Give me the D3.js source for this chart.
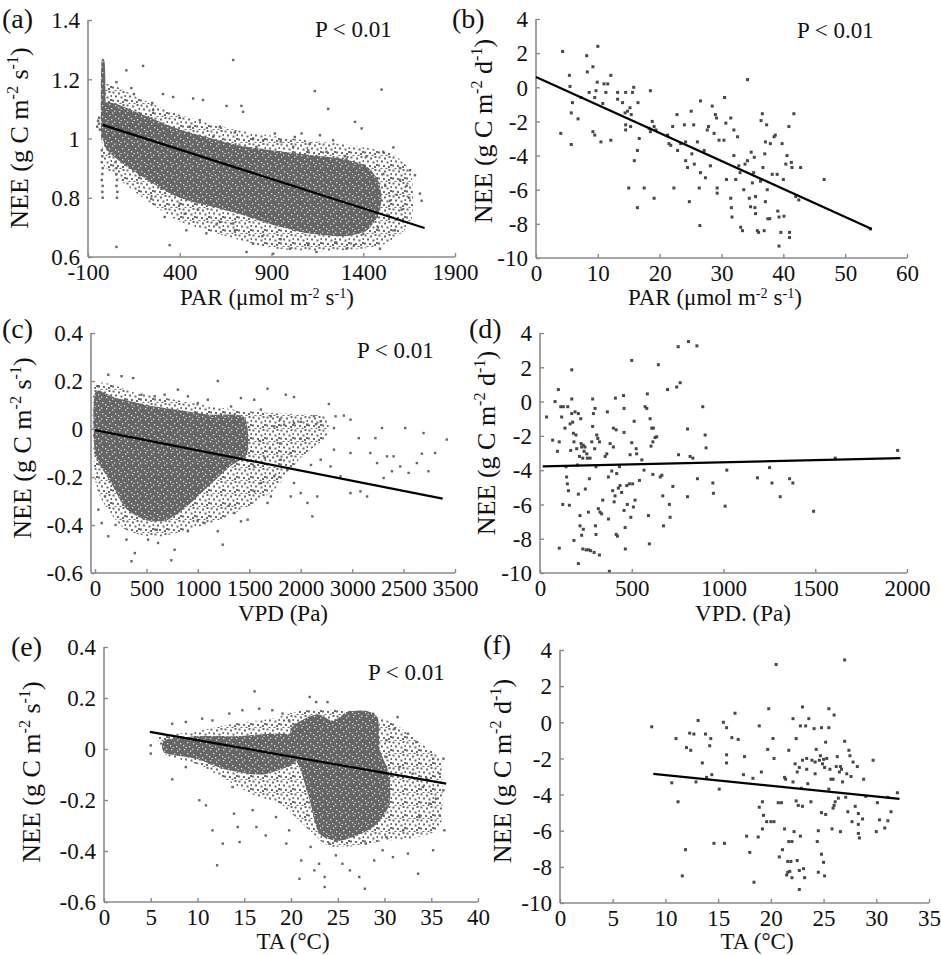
<!DOCTYPE html>
<html><head><meta charset="utf-8">
<script src="https://cdn.jsdelivr.net/npm/d3@7/dist/d3.min.js"></script>
<style>body{margin:0;background:#fff}svg{display:block}text{font-family:"Liberation Serif","Times New Roman",serif;fill:#111}</style>
</head><body><svg id="c" width="941" height="955"></svg>
<script>
// ---------- DATA ----------
const aTicksX=[-100,400,900,1400,1900], aTicksY=[0.6,0.8,1,1.2,1.4];
const aFit=[[-20,1.046],[1734,0.698]];
const aCoreOuter=[[-20,1.18],[200,1.13],[400,1.08],[700,1.03],[1000,1.0],[1300,0.98],[1550,0.95],[1660,0.88],[1660,0.72],[1500,0.64],[1200,0.62],[900,0.63],[600,0.68],[400,0.72],[200,0.80],[0,0.90],[-20,0.94]];
const aCoreInner=[[-5,1.12],[200,1.08],[400,1.03],[700,0.98],[900,0.96],[1100,0.945],[1300,0.93],[1420,0.905],[1480,0.86],[1500,0.80],[1480,0.74],[1420,0.69],[1300,0.67],[1100,0.68],[900,0.71],[700,0.75],[400,0.80],[200,0.87],[-5,0.97]];
const aStripe=[[-28,1.25],[-8,1.25],[-5,1.05],[-28,1.0]];
const aPoints=[[691,1.265],[1500,1.165],[1136,1.16],[1209,1.10],[200,1.245],[109,1.23],[55,1.19],[136,1.17],[309,1.15],[364,1.14],[473,1.135],[527,1.13],[655,1.11],[736,1.11],[745,1.09],[1355,1.056],[1391,1.034],[918,1.017],[1027,1.005],[1064,1.017],[1164,1.011],[1236,0.994],[1509,0.955],[1564,0.97],[1682,0.876],[1709,0.814],[1718,0.79],[1636,0.84],[1655,0.893],[1600,0.90],[1582,0.81],[1609,0.76],[1573,0.69],[1491,0.628],[1400,0.679],[1309,0.628],[1145,0.617],[1000,0.628],[909,0.611],[800,0.645],[764,0.617],[436,0.69],[345,0.64],[55,0.634],[318,0.735],[245,0.797],[182,0.876],[427,0.746],[545,0.68],[691,0.713],[618,0.718],[1455,0.77],[1473,0.814],[1545,0.79],[1509,0.88],[1418,0.94],[1309,0.93],[1200,0.955],[1109,0.983],[1018,0.972],[855,0.994],[818,0.972],[582,1.006],[509,1.062],[455,1.04],[255,1.096],[218,1.062],[618,1.04],[327,1.017],[-40,1.07],[-45,1.06],[-40,1.05],[-50,1.04],[-35,1.03],[-25,0.96],[-22,0.94],[-25,0.92],[-20,0.90],[-22,0.88],[-25,0.86],[-20,0.84],[-22,0.82],[-20,0.80],[55,0.90],[55,0.88],[58,0.86],[55,0.84],[60,0.82],[58,0.80],[50,0.92],[1250,0.90],[1350,0.88],[1450,0.86],[1520,0.84],[1600,0.86],[1650,0.80],[1540,0.74],[1480,0.70],[1350,0.64],[1250,0.65],[1100,0.64],[950,0.66],[850,0.67],[700,0.69],[600,0.71],[500,0.76],[400,0.78],[300,0.83],[950,0.99],[700,1.02],[800,1.0],[1100,0.96],[1300,0.94],[400,1.07],[250,1.12],[150,1.15]];

const bTicksX=[0,10,20,30,40,50,60], bTicksY=[-10,-8,-6,-4,-2,0,2,4];
const bFit=[[0,0.6],[54.3,-8.3]];
const bPoints=[[4.3,2.1],[4.0,-2.7],[5.7,-3.35],[5.4,0.7],[5.5,0.05],[5.7,-1.5],[5.9,-0.9],[6.8,-1.85],[7.3,-0.6],[8.2,1.85],[8.3,0.9],[8.6,-0.3],[9.2,1.2],[9.5,-0.6],[9.7,-0.2],[10,2.4],[9.9,0.3],[9.2,-2.6],[9.5,-2.8],[10.5,-3.2],[10.8,-0.95],[11,0.2],[11.6,0.2],[11.3,-0.3],[12.1,0.7],[12.1,-3.1],[13.2,-0.3],[13.2,-0.7],[14,-0.9],[14.4,-1.5],[14.5,-0.3],[14.5,-2.2],[14.5,-2.5],[14.8,-1.4],[15.2,-1.2],[15.6,-0.3],[15.8,0],[15.4,-1.6],[15.3,-2.3],[15,-5.9],[15.9,-4.3],[16.4,-3.7],[16.5,-0.9],[16.7,-3],[16.4,-7.05],[17.5,-5.9],[18.5,-0.2],[18.3,-2.4],[18.5,-2.6],[18.8,-2],[19.1,-2.3],[19.1,-6.5],[19.4,-2.5],[21.3,-2.8],[21.5,-3.3],[21.8,-3.4],[22.1,-2.3],[22.3,-5.9],[22.8,-1.6],[22.9,-3.7],[23.4,-3.3],[24,-2.2],[24.2,-3.2],[24.2,-4.3],[24.5,-4.7],[24.8,-6.7],[25.1,-1.4],[25.2,-3.9],[25.5,-2.2],[25.6,-4.5],[26.1,-3.2],[26.4,-5.9],[26.6,-0.8],[26.6,-5],[26.5,-8.1],[27.2,-3.7],[27.4,-5.3],[27.7,-2.5],[27.9,-2.3],[28.2,-4.6],[28.5,-1.1],[28.8,-2.7],[29,-1.6],[29.2,-1.8],[29.3,-5.9],[29.3,-6.2],[29.6,-3.1],[30.4,-3.1],[30.5,-0.6],[30.7,-2.1],[30.8,-5.4],[31.5,-1.8],[31.5,-6.5],[31.6,-7.05],[31.7,-7.6],[32,-2.5],[32,-4.0],[32.3,-5.4],[32.6,-2.9],[32.8,-4.6],[33,-5],[33.1,-8.2],[33.4,-8.4],[33.6,-6.0],[33.8,-4.5],[34.2,0.45],[34.2,-4.3],[34.5,-6.5],[34.7,-7.0],[34.8,-3.8],[35,-5.6],[35.2,-5.0],[35.3,-4.1],[35.4,-7.05],[35.5,-6.4],[35.5,-7.4],[35.8,-8.4],[36,-8.5],[36.3,-5.5],[36.4,-1.95],[36.6,-1.55],[36.7,-4.7],[36.9,-8.4],[37,-3.9],[37.1,-3.2],[37.1,-6.7],[37.3,-2.2],[37.4,-6],[37.5,-7.7],[37.8,-7.7],[37.9,-3.3],[38.2,-5.1],[38.5,-2.9],[38.7,-2.8],[39,-5.1],[39.1,-7.25],[39.3,-7.6],[39.3,-9.3],[39.6,-8.5],[39.8,-3.3],[40,-5.4],[40.1,-7.55],[40.4,-4.5],[40.6,-4.0],[40.9,-2.3],[41,-8.5],[41,-8.8],[41.3,-4.4],[41.4,-4.7],[41.7,-1.55],[42,-6.4],[42.5,-6.6],[42.8,-4.7],[46.6,-5.4],[54.1,-8.3]];

const cTicksX=[0,500,1000,1500,2000,2500,3000,3500], cTickLabels=["0","500","1000","1500","2000","3000","2500","3500"], cTicksY=[-0.6,-0.4,-0.2,0,0.2,0.4];
const cFit=[[0,-0.005],[3380,-0.29]];
const cCoreOuter=[[0,0.18],[400,0.15],[800,0.12],[1200,0.09],[1600,0.07],[2000,0.06],[2250,0.05],[2250,-0.03],[2000,-0.12],[1750,-0.25],[1500,-0.32],[1200,-0.38],[900,-0.42],[600,-0.45],[300,-0.42],[100,-0.32],[0,-0.2]];
const cCoreInner=[[0,0.15],[200,0.13],[500,0.10],[800,0.08],[1100,0.06],[1450,0.05],[1480,-0.10],[1300,-0.16],[1100,-0.24],[900,-0.32],[700,-0.38],[500,-0.38],[300,-0.33],[150,-0.22],[0,-0.10]];
const cPoints=[[129,0.226],[258,0.22],[371,0.212],[32,0.178],[1194,0.2],[806,0.164],[1677,0.168],[1855,0.143],[1935,0.133],[2274,0.104],[2339,0.053],[2419,0.056],[2484,0.039],[2565,-0.038],[2726,-0.038],[2790,0.004],[3016,0.004],[3194,-0.017],[3420,-0.044],[3307,-0.10],[3178,-0.103],[3242,-0.176],[3049,-0.183],[2887,-0.176],[2839,-0.114],[2742,-0.142],[2645,-0.281],[2581,-0.26],[2484,-0.267],[2387,-0.197],[2290,-0.156],[2194,-0.128],[2113,-0.364],[2065,-0.308],[2000,-0.267],[1935,-0.225],[1871,-0.169],[1806,-0.128],[1742,-0.197],[1710,-0.281],[1677,-0.308],[1613,-0.225],[1548,-0.156],[1484,-0.378],[1419,-0.385],[1355,-0.35],[1242,-0.482],[1194,-0.426],[1065,-0.392],[903,-0.426],[774,-0.503],[742,-0.547],[613,-0.475],[516,-0.461],[387,-0.517],[355,-0.551],[306,-0.461],[129,-0.447],[65,-0.392],[32,-0.336],[97,-0.281],[2323,0.004],[2194,0.032],[2129,0.053],[2065,0.018],[1935,0.025],[1839,0.018],[1742,0.011],[1710,0.053],[1613,0.081],[1548,0.122],[1419,0.129],[1323,0.094],[1097,0.122],[1000,0.108],[903,0.136],[677,0.143],[581,0.136],[452,0.143],[2161,-0.281],[1903,-0.281],[2323,-0.086],[2484,-0.10],[2677,-0.10],[2903,-0.114],[3129,-0.142],[2968,-0.156],[2806,-0.204],[1600,-0.05],[1700,-0.08],[1800,-0.06],[1900,-0.10],[2000,-0.04],[2100,-0.15],[1650,-0.12],[1550,-0.26],[1300,-0.32],[1000,-0.38],[600,-0.42],[200,-0.40],[1800,0.04],[2000,0.03],[2150,0.02]];

const dTicksX=[0,500,1000,1500,2000], dTicksY=[-10,-8,-6,-4,-2,0,2,4];
const dFit=[[15,-3.78],[1964,-3.3]];
const dPoints=[[36,-0.9],[69,-2.25],[82,0],[95,-2.9],[100,0.7],[105,-2.35],[105,-8.55],[113,-0.3],[118,-0.9],[127,-0.3],[124,-6],[136,-1.55],[142,-3.8],[145,-4.4],[149,-4.8],[151,-0.3],[155,-5.2],[160,-6.05],[164,-1.3],[167,-2.85],[173,1.85],[173,0.15],[173,-0.7],[178,-1.2],[182,-1.85],[185,-2.35],[185,-8.1],[191,-0.6],[196,-1.95],[200,-2.75],[204,-3.7],[209,-0.7],[209,-5.4],[209,-9.45],[215,-3.2],[218,-6.65],[218,-7.25],[222,-1],[224,-2.45],[227,-2.65],[227,-7.8],[233,-3.3],[233,-8.6],[236,-2.55],[236,-7.45],[240,-2.9],[245,-2.65],[247,-5.1],[251,-8.65],[255,-3.05],[258,-3.3],[264,-6.45],[265,-8.65],[269,-4.5],[273,-3.3],[276,-8.7],[282,-2.35],[287,-1.45],[287,0.15],[291,-0.7],[295,-8.8],[298,-2.75],[300,-0.4],[302,-7.25],[305,-3.8],[305,-7.75],[309,-1.95],[315,-2.15],[318,-6.25],[324,-8.95],[324,-2.35],[327,-6.45],[336,-6.55],[342,-5.75],[355,-3.2],[364,-3.05],[367,-0.6],[373,-4.4],[373,-6.85],[378,-9.9],[382,-2.45],[391,-4.05],[396,-5.2],[400,-2.65],[400,-1.55],[404,-5.85],[409,-5.5],[411,0.2],[415,-1.65],[415,-7.75],[418,-4.2],[422,-7.85],[427,-5.05],[433,-3.8],[436,-4.9],[445,-5.3],[455,0.35],[458,-0.4],[458,-1.8],[458,-6.35],[464,-7.35],[465,-8.6],[473,-4.9],[476,-6],[487,-4.8],[491,-3.1],[495,-6.75],[500,2.4],[500,-2.4],[505,-4.8],[509,-6.15],[513,-1.15],[518,-5.75],[524,-2.75],[527,-3.05],[542,-4.6],[555,-3.4],[567,-4.0],[573,-0.3],[582,-0.4],[585,0.45],[591,-6.65],[596,-8.3],[600,-1],[605,-2.6],[609,-1.55],[615,-2.35],[615,-4.25],[618,-1.55],[627,-2.1],[636,-2.05],[645,2.15],[655,-4.4],[664,-4.3],[669,-5.5],[673,-7.25],[695,0.7],[705,-6],[709,-6.75],[724,-4.95],[745,0.85],[753,3.2],[755,-3.1],[764,1.1],[804,-5.55],[804,-1.6],[809,3.5],[818,-3.2],[833,-3.3],[855,3.25],[858,-4.5],[887,-0.3],[900,-1.95],[905,-2.7],[942,-4.75],[945,-5.35],[1009,-6.1],[1018,-4.0],[1185,-4.45],[1251,-3.85],[1264,-4.75],[1309,-5.55],[1360,-4.5],[1378,-4.75],[1491,-6.4],[1609,-3.3],[1949,-2.85]];

const eTicksX=[0,5,10,15,20,25,30,35,40], eTicksY=[-0.6,-0.4,-0.2,0,0.2,0.4];
const eFit=[[4.9,0.067],[36.6,-0.136]];
const eCoreOuter=[[6,0.05],[10,0.07],[14,0.10],[18,0.12],[21,0.15],[24,0.155],[28,0.14],[31,0.10],[34,0.02],[36,-0.05],[36,-0.30],[33,-0.35],[30,-0.36],[27,-0.38],[24,-0.38],[22,-0.32],[19,-0.22],[16,-0.18],[13,-0.12],[10,-0.06],[7,-0.03],[6,0]];
const eCoreMain=[[20,0.08],[21.5,0.12],[23,0.135],[24.5,0.11],[26,0.145],[28,0.15],[29.3,0.12],[29.5,0.0],[30.5,-0.1],[30.5,-0.22],[29,-0.3],[27,-0.34],[25,-0.36],[23,-0.33],[22,-0.2],[21,-0.08],[20,0.0]];
const eCoreLeft=[[6.5,0.035],[10,0.05],[14,0.05],[18,0.06],[20.5,0.05],[20.5,-0.05],[17,-0.1],[13,-0.08],[10,-0.04],[6.5,-0.015]];
const ePoints=[[16.1,0.226],[22.0,0.204],[22.7,0.184],[23.9,0.184],[26.3,0.145],[28.8,0.138],[31.4,0.125],[31.1,0.08],[32.5,0.06],[33.4,0.027],[35.2,-0.038],[36.3,-0.038],[35.9,-0.097],[36.3,-0.162],[36.4,-0.319],[35.2,-0.397],[33.6,-0.489],[32.5,-0.41],[30.9,-0.424],[29.8,-0.397],[28.9,-0.437],[27.9,-0.548],[27.3,-0.502],[26.3,-0.476],[25.5,-0.45],[23.6,-0.541],[23.6,-0.502],[22.5,-0.476],[20.9,-0.509],[21.1,-0.437],[19.5,-0.371],[17.3,-0.339],[16.3,-0.306],[14.5,-0.365],[14.3,-0.306],[13.9,-0.254],[12.7,-0.371],[12.1,-0.456],[11.6,-0.319],[10.9,-0.221],[10.2,-0.201],[7.3,-0.119],[5.0,0.014],[5.0,-0.018],[7.3,0.099],[8.75,0.106],[10.5,0.119],[11.6,0.112],[13.4,0.139],[14.8,0.152],[16.6,0.158],[18.0,0.152],[19.1,0.139],[19.8,0.112],[20.2,0.073],[8.75,-0.071],[13.75,-0.149],[15.9,-0.24],[18.4,-0.267],[19.8,-0.319],[28.0,-0.371],[30.2,-0.345],[32.0,-0.319],[33.75,-0.267],[34.8,-0.214],[34.1,-0.149],[33.0,-0.097],[31.6,-0.071],[30.2,-0.031],[30.2,0.034],[34.5,-0.116],[35.5,-0.195],[35.9,-0.26],[24.1,-0.371],[24.8,-0.417],[22.1,-0.384],[23.0,-0.45]];

const fTicksX=[0,5,10,15,20,25,30,35], fTicksY=[-10,-8,-6,-4,-2,0,2,4];
const fFit=[[8.85,-2.85],[32.2,-4.24]];
const fPoints=[[8.7,-0.25],[10.6,-3.35],[11.0,-0.9],[11.2,-4.4],[11.6,-8.5],[11.9,-7.05],[12.0,-1.4],[12.3,-0.6],[12.4,-1.55],[12.7,-0.65],[12.9,-3.3],[13.1,0.1],[13.5,-2.25],[13.8,-0.65],[13.9,-3.05],[14.2,-1.3],[14.3,-0.9],[14.4,-2.9],[14.6,-6.7],[15.1,-3.7],[15.5,0],[15.6,-6.7],[15.8,-0.3],[15.8,-1.8],[15.8,-2.25],[16.3,-0.85],[16.6,0.5],[16.9,-0.95],[17.4,-2.9],[17.5,-1.9],[17.7,-6.3],[18.0,-7.2],[18.3,-3.1],[18.4,-8.85],[18.8,-6.35],[18.9,-0.2],[18.9,-4.7],[19.1,-2.75],[19.2,-4.4],[19.2,-5.9],[19.3,-5.15],[19.6,-5.5],[19.7,-1.5],[19.8,0.75],[20.0,-5.5],[20.2,-0.9],[20.3,-2],[20.3,-5.5],[20.5,3.2],[20.7,-4.45],[20.8,-7.45],[21.0,-4.45],[21.1,-7.05],[21.3,-3.05],[21.3,-5.9],[21.4,-3.15],[21.5,-8.45],[21.6,-7.7],[21.6,-8.3],[21.7,-6.6],[21.7,-1.55],[21.8,-8.25],[21.9,-7.7],[22.0,-8.6],[22.0,-6.6],[22.1,0.2],[22.1,-3.3],[22.2,-6.05],[22.3,-2.3],[22.4,-4.35],[22.4,-0.9],[22.5,-2.75],[22.5,-7.65],[22.6,-4.6],[22.7,-2.5],[22.7,-8.2],[22.7,-9.25],[22.8,-0.2],[22.8,-6.3],[22.9,-3.65],[23.0,-4.65],[23.0,0.85],[23.0,-2.1],[23.1,-8.1],[23.2,-8.6],[23.3,-0.2],[23.4,-2.6],[23.4,-2],[23.5,-3.4],[23.6,0.2],[23.8,-4.4],[23.9,-2.1],[24.1,-0.35],[24.2,-2.85],[24.2,-2.2],[24.3,-1.5],[24.4,-6.6],[24.5,-8.3],[24.5,-6],[24.6,-2.1],[24.7,-1.85],[24.8,-7.3],[24.8,-0.3],[24.8,-5],[24.9,-2.3],[25.0,-7.75],[25.0,-2.05],[25.1,-2.5],[25.1,-8.5],[25.2,-5.1],[25.2,-1.1],[25.3,-2],[25.5,0.75],[25.5,-0.3],[25.5,-3.7],[25.6,-2.6],[25.7,-3.15],[25.8,-5.9],[25.9,-4.75],[25.9,-3.15],[26.0,0.4],[26.0,-4.6],[26.1,-4.4],[26.2,-2.45],[26.3,-1.9],[26.4,-4.2],[26.5,-2.75],[26.6,-2.45],[26.6,-6.05],[26.7,-2.6],[26.8,-3.3],[27.0,-1.05],[27.0,3.45],[27.1,-4.15],[27.2,-2.85],[27.3,-4.95],[27.4,-1.55],[27.5,-1.85],[27.6,-3],[27.7,-5.5],[27.8,-2.2],[28.0,-4.65],[28.2,-2.45],[28.3,-5.05],[28.3,-5.65],[28.3,-6.15],[28.4,-6.4],[28.7,-5.35],[28.8,-3.15],[29.0,-4.1],[29.7,-2.1],[30.0,-6.05],[30.1,-4.45],[30.3,-5.4],[30.8,-5.85],[31.1,-4.15],[31.1,-5.45],[31.4,-4.95],[32.0,-3.9]];

const labelNEEs=[["NEE (g C m",0],["-2",1],[" s",0],["-1",1],[")",0]];
const labelNEEd=[["NEE (g C m",0],["-2",1],[" d",0],["-1",1],[")",0]];
const labelPAR=[["PAR (μmol m",0],["-2",1],[" s",0],["-1",1],[")",0]];

// ---------- DRAWING ----------
const svg=d3.select("#c");
const defs=svg.append("defs");
const pd=defs.append("pattern").attr("id","pd").attr("width",13).attr("height",11).attr("patternUnits","userSpaceOnUse");
pd.append("rect").attr("width",13).attr("height",11).attr("fill","#666");
[[2,1],[8,2.5],[5,5],[11,6],[1,8],[7,9],[10,0.5],[3.5,10]].forEach(p=>pd.append("rect").attr("x",p[0]).attr("y",p[1]).attr("width",1.3).attr("height",1.3).attr("fill","#fff").attr("fill-opacity",0.75));
const pm=defs.append("pattern").attr("id","pm").attr("width",14).attr("height",13).attr("patternUnits","userSpaceOnUse");
[[0.5,0.5],[6,1.5],[10.5,0],[3,4.5],[8.5,5.5],[12.5,4],[0,8.5],[5,9],[10,10],[2.5,12],[7.5,11.8],[12,8]].forEach(p=>pm.append("rect").attr("x",p[0]).attr("y",p[1]).attr("width",2).attr("height",2).attr("fill","#6a6a6a"));

const FT=23, FX=23, FY=26;
function rich(t,parts,size,k){
  let up=false;
  parts.forEach(([s,sup])=>{
    const ts=t.append("tspan").text(s).attr("font-size",sup?size*0.62:size);
    if(sup&&!up){ts.attr("dy",-size*k);up=true;}
    else if(!sup&&up){ts.attr("dy",size*k);up=false;}
  });
}
function panel(o){
  const g=svg.append("g");
  const x=d3.scaleLinear().domain(o.xd).range(o.xr);
  const y=d3.scaleLinear().domain(o.yd).range(o.yr);
  const ax=o.axisX!==undefined?o.axisX:o.xr[0];
  const line=d3.line().x(d=>x(d[0])).y(d=>y(d[1])).curve(d3.curveCardinalClosed.tension(0.3));
  (o.polys||[]).forEach(p=>{
    g.append("path").attr("d",line(p.d)).attr("fill",p.c).attr("stroke","none");
  });
  g.selectAll("rect.pt").data(o.pts).join("rect").attr("class","pt")
    .attr("x",d=>x(d[0])-o.r).attr("y",d=>y(d[1])-o.r).attr("width",o.r*2).attr("height",o.r*2).attr("fill",o.pc);
  const xa=d3.axisBottom(x).tickValues(o.xt).tickSizeInner(-4).tickSizeOuter(0).tickPadding(7)
    .tickFormat((d,i)=>o.xl?o.xl[i]:String(d));
  const gx=g.append("g").attr("transform",`translate(0,${o.yr[0]})`).call(xa);
  const ya=d3.axisLeft(y).tickValues(o.yt).tickSizeInner(-4).tickSizeOuter(0).tickPadding(8)
    .tickFormat(d=>String(d));
  const gy=g.append("g").attr("transform",`translate(${ax},0)`).call(ya);
  [gx,gy].forEach(a=>{a.select(".domain").remove();a.selectAll("line").attr("stroke","#8a8a8a").attr("stroke-width",1.4);
    a.selectAll("text").attr("font-size",FT).attr("font-family",'"Liberation Serif",serif').attr("fill","#111");});
  gx.selectAll("text").attr("dy","0.71em");
  gy.selectAll("text").attr("dy","0.34em");
  g.append("line").attr("x1",ax).attr("x2",o.xEnd||o.xr[1]).attr("y1",o.yr[0]).attr("y2",o.yr[0]).attr("stroke","#8a8a8a").attr("stroke-width",1.6);
  g.append("line").attr("x1",ax).attr("x2",ax).attr("y1",o.yr[0]).attr("y2",o.yr[1]).attr("stroke","#8a8a8a").attr("stroke-width",1.6);
  g.append("line").attr("x1",x(o.fit[0][0])).attr("y1",y(o.fit[0][1])).attr("x2",x(o.fit[1][0])).attr("y2",y(o.fit[1][1]))
    .attr("stroke","#000").attr("stroke-width",2.2);
  const yl=g.append("text").attr("text-anchor","middle").attr("transform",`translate(${o.ylab[0]},${o.ylab[1]}) rotate(-90)`);
  rich(yl,o.ylabT,FY,0.4);
  const xl=g.append("text").attr("text-anchor","middle").attr("x",o.xlab[0]).attr("y",o.xlab[1]);
  rich(xl,o.xlabT,FX,0.3);
  g.append("text").attr("x",o.tag[0]).attr("y",o.tag[1]).attr("font-size",28).text(o.tagT);
  if(o.p) g.append("text").attr("x",o.p[0]).attr("y",o.p[1]).attr("font-size",FT).text("P < 0.01");
}
const dense="url(#pd)", med="url(#pm)";
panel({xd:[-100,1900],xr:[88,455],yd:[0.6,1.4],yr:[257,20],xt:aTicksX,yt:aTicksY,pts:aPoints,r:1.2,pc:"#666",fit:aFit,
  polys:[{d:aCoreOuter,c:med},{d:aCoreInner,c:dense},{d:aStripe,c:dense}],
  ylab:[28,138],ylabT:labelNEEs,xlab:[267,305],xlabT:labelPAR,tag:[2,28],tagT:"(a)",p:[315,37]});
panel({xd:[0,60],xr:[536,907],yd:[-10,4],yr:[258,19],xt:bTicksX,yt:bTicksY,pts:bPoints,r:1.5,pc:"#474747",fit:bFit,
  ylab:[492,131],ylabT:labelNEEd,xlab:[715,305],xlabT:labelPAR,tag:[452,28],tagT:"(b)",p:[797,38]});
panel({xd:[0,3500],xr:[95,455],axisX:91,yd:[-0.6,0.4],yr:[573,333],xt:cTicksX,xl:cTickLabels,yt:cTicksY,pts:cPoints,r:1.2,pc:"#666",fit:cFit,
  polys:[{d:cCoreOuter,c:med},{d:cCoreInner,c:dense}],
  ylab:[31,448],ylabT:labelNEEs,xlab:[283,621],xlabT:[["VPD (Pa)",0]],tag:[2,338],tagT:"(c)",p:[357,358]});
panel({xd:[0,2000],xr:[540,907],yd:[-10,4],yr:[573,333],xt:dTicksX,yt:dTicksY,pts:dPoints,r:1.5,pc:"#474747",fit:dFit,
  ylab:[495,443],ylabT:labelNEEd,xlab:[743,621],xlabT:[["VPD. (Pa)",0]],tag:[469,338],tagT:"(d)"});
panel({xd:[0,40],xr:[104,478],yd:[-0.6,0.4],yr:[902,647],xt:eTicksX,yt:eTicksY,pts:ePoints,r:1.2,pc:"#666",fit:eFit,
  polys:[{d:eCoreOuter,c:med},{d:eCoreMain,c:dense},{d:eCoreLeft,c:dense}],
  ylab:[40,772],ylabT:labelNEEs,xlab:[293,949],xlabT:[["TA (°C)",0]],tag:[11,656],tagT:"(e)",p:[368,680]});
panel({xd:[0,35],xr:[560,929],yd:[-10,4],yr:[903,650],xt:fTicksX,yt:fTicksY,pts:fPoints,r:1.5,pc:"#474747",fit:fFit,
  ylab:[511,771],ylabT:labelNEEd,xlab:[757,949],xlabT:[["TA (°C)",0]],tag:[483,654],tagT:"(f)"});
</script></body></html>
